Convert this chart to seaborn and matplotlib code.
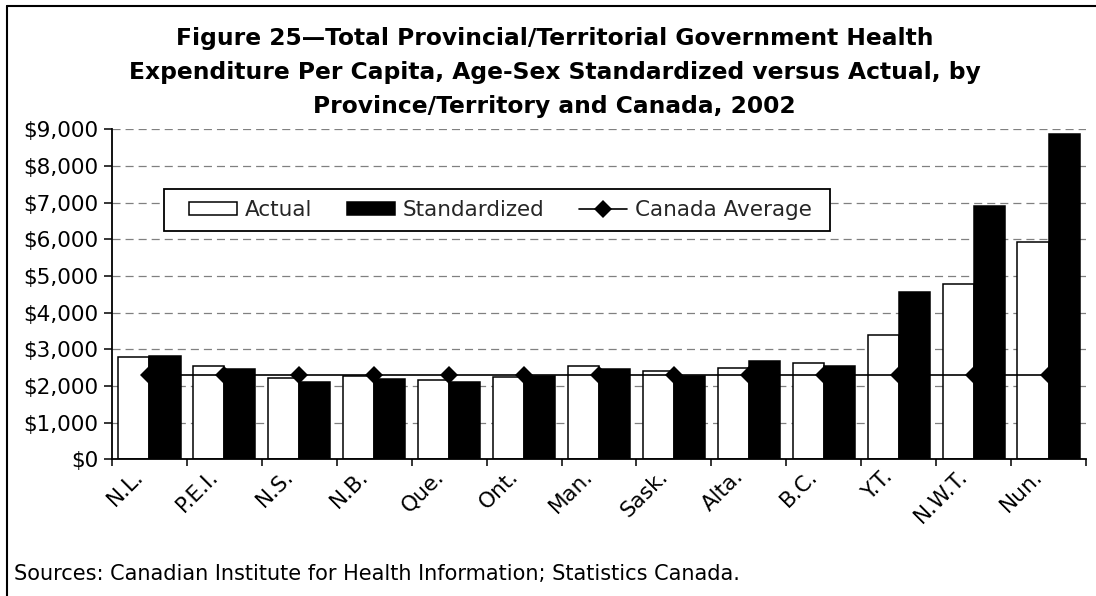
import matplotlib
matplotlib.use("Agg")
import matplotlib.pyplot as plt
import matplotlib.transforms as mtransforms
import seaborn as sns
import pandas as pd
import numpy as np
from matplotlib.patches import Patch, Rectangle
from matplotlib.lines import Line2D
from matplotlib.ticker import FuncFormatter, FixedLocator

categories = ["N.L.", "P.E.I.", "N.S.", "N.B.", "Que.", "Ont.", "Man.",
              "Sask.", "Alta.", "B.C.", "Y.T.", "N.W.T.", "Nun."]
actual = [2780, 2540, 2210, 2270, 2160, 2250, 2550, 2400, 2490, 2630, 3400, 4780, 5930]
standardized = [2830, 2450, 2120, 2180, 2120, 2270, 2450, 2270, 2690, 2540, 4550, 6900, 8880]
canada_average = [2300] * 13
series_names = ["Actual", "Standardized", "Canada Average"]
title_lines = ["Figure 25\u2014Total Provincial/Territorial Government Health",
               "Expenditure Per Capita, Age-Sex Standardized versus Actual, by",
               "Province/Territory and Canada, 2002"]
source_text = "Sources: Canadian Institute for Health Information; Statistics Canada."

sns.set_theme(style="white")
plt.rcParams["font.family"] = ["DejaVu Sans"]
plt.rcParams["lines.scale_dashes"] = False

W, H = 1096, 596
fig = plt.figure(figsize=(W / 100, H / 100), dpi=100)
fig.patch.set_facecolor("white")
ax = fig.add_axes([112 / W, 1 - 459.3 / H, (1086 - 112) / W, (459.3 - 129.3) / H])
ax.set_facecolor("white")

df = pd.DataFrame({
    "Province": categories * 2,
    "Series": [series_names[0]] * len(categories) + [series_names[1]] * len(categories),
    "Value": actual + standardized,
})

sns.barplot(data=df, x="Province", y="Value", hue="Series",
            palette={series_names[0]: "white", series_names[1]: "black"},
            saturation=1, edgecolor="black", linewidth=1.1, width=0.83, gap=0,
            dodge=True, legend=False, ax=ax, zorder=2)

sns.pointplot(x=categories, y=canada_average, color="black", markers="D",
              linestyles="-", errorbar=None, ax=ax, linewidth=1.2,
              markersize=9.5, markeredgewidth=0, zorder=3)

ax.set_xlim(-0.5, len(categories) - 0.5)
ax.set_ylim(0, 9000)
ax.set_xlabel("")
ax.set_ylabel("")

ax.yaxis.set_major_locator(FixedLocator(np.arange(0, 9001, 1000)))
ax.yaxis.set_major_formatter(FuncFormatter(lambda v, p: f"${v:,.0f}"))
ax.set_axisbelow(True)
ax.yaxis.grid(True, linestyle=(0, (5.8, 3.6)), color="#808080", linewidth=0.9)
ax.xaxis.grid(False)

for s in ["top", "right"]:
    ax.spines[s].set_visible(False)
for s in ["left", "bottom"]:
    ax.spines[s].set_color("black")
    ax.spines[s].set_linewidth(1.3)

ax.tick_params(axis="y", which="major", direction="out", length=6, width=1.1,
               color="black", labelsize=15.5, labelcolor="black", pad=4, left=True)
ax.set_xticks(range(len(categories)))
ax.set_xticklabels(categories)
ax.set_xticks(np.arange(-0.5, len(categories), 1.0), minor=True)
ax.tick_params(axis="x", which="major", length=0, labelsize=15.5, labelcolor="black", pad=10)
ax.tick_params(axis="x", which="minor", direction="out", length=5, width=1.1,
               color="black", bottom=True)
offset = mtransforms.ScaledTranslation(-9 / 100, 0, fig.dpi_scale_trans)
for lbl in ax.get_xticklabels():
    lbl.set_rotation(45)
    lbl.set_ha("right")
    lbl.set_va("center")
    lbl.set_rotation_mode("anchor")
    lbl.set_transform(lbl.get_transform() + offset)

# Title
for i, line in enumerate(title_lines):
    fig.text(0.506, 1 - (38 + 34.5 * i) / H, line, ha="center", va="center",
             fontsize=16.8, fontweight="bold", color="black")

# Source
fig.text(14 / W, 1 - 574 / H, source_text, ha="left", va="center",
         fontsize=15, color="black")

# Frame (top and left edges)
fig.add_artist(Line2D([7 / W, 7 / W], [1 - 6 / H, 0], transform=fig.transFigure,
                      color="black", linewidth=1.5))
fig.add_artist(Line2D([7 / W, 1], [1 - 6 / H, 1 - 6 / H], transform=fig.transFigure,
                      color="black", linewidth=1.5))

# Legend box and legend
fig.add_artist(Rectangle((164 / W, 1 - 231 / H), (830 - 164) / W, 42 / H,
                         transform=fig.transFigure, facecolor="white",
                         edgecolor="black", linewidth=1.3, zorder=4))
handles = [
    Patch(facecolor="white", edgecolor="black", linewidth=1.1, label=series_names[0]),
    Patch(facecolor="black", edgecolor="black", linewidth=1.1, label=series_names[1]),
    Line2D([0], [0], color="black", linewidth=1.2, marker="D", markersize=9.5,
           markeredgewidth=0, label=series_names[2]),
]
leg = fig.legend(handles=handles, loc="center left",
                 bbox_to_anchor=(189 / W, 1 - 210 / H), ncol=3, frameon=False,
                 fontsize=15.5, handlelength=2.25, handleheight=0.6,
                 handletextpad=0.35, columnspacing=1.6, borderpad=0,
                 borderaxespad=0)
leg.set_zorder(5)

fig.savefig("out.png", dpi=100, facecolor="white")
